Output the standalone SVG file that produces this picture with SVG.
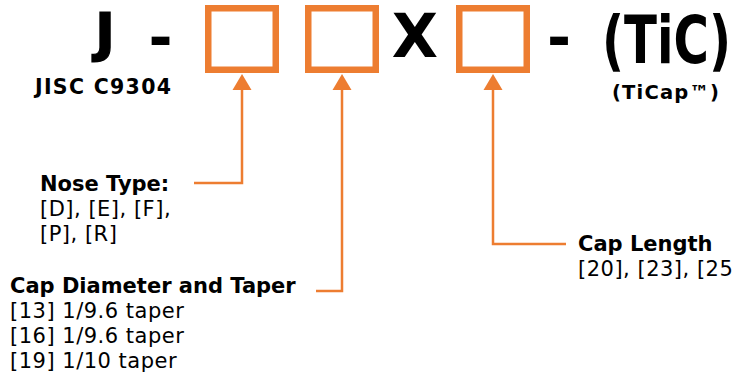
<svg xmlns="http://www.w3.org/2000/svg" width="734" height="378" viewBox="0 0 734 378">
  <style>
    .big { font-family: "DejaVu Sans", Verdana, sans-serif; font-weight: bold; fill: #000; }
    .hd { font-family: "DejaVu Sans", Verdana, sans-serif; font-weight: bold; font-size: 21px; fill: #000; }
    .tx { font-family: "DejaVu Sans", Verdana, sans-serif; font-size: 21px; letter-spacing: 0.5px; fill: #000; }
    .box { fill: none; stroke: #ED7D31; stroke-width: 6.5; }
    .conn { fill: none; stroke: #ED7D31; stroke-width: 2.5; }
    .head { fill: #ED7D31; }
  </style>

  <g id="code">
    <text class="big" x="95" y="51" font-size="54" stroke="#000" stroke-width="1.2">J</text>
    <text class="big" x="160.5" y="58" font-size="58" text-anchor="middle">-</text>
    <text class="big" x="415" y="57" font-size="60" text-anchor="middle">X</text>
    <text class="big" x="559" y="58" font-size="58" text-anchor="middle">-</text>
    <text class="big" x="0" y="0" font-size="65" transform="translate(602,62.5) scale(0.743,1)">(TiC)</text>
  </g>

  <g id="jisc">
    <text class="big" x="35" y="94" font-size="20.5" textLength="136">JISC C9304</text>
  </g>
  <g id="ticap">
    <text class="big" x="612" y="99" font-size="19.5" textLength="107">(TiCap™)</text>
  </g>

  <g id="box-nose">
    <rect class="box" x="208.25" y="8.25" width="67.5" height="61.5"/>
  </g>
  <g id="box-diameter">
    <rect class="box" x="308.25" y="8.25" width="67.5" height="61.5"/>
  </g>
  <g id="box-length">
    <rect class="box" x="459.25" y="8.25" width="67.5" height="61.5"/>
  </g>

  <g id="connectors">
    <path class="conn" d="M242,89 V183 H194"/>
    <polygon class="head" points="242,74 232.5,90 251.5,90"/>
    <path class="conn" d="M342,89 V291 H316"/>
    <polygon class="head" points="342,74 332.5,90 351.5,90"/>
    <path class="conn" d="M493,89 V244 H566"/>
    <polygon class="head" points="493,74 483.5,90 502.5,90"/>
  </g>

  <g id="nose-type">
    <text class="hd" x="40" y="191">Nose Type:</text>
    <text class="tx" x="40" y="216">[D], [E], [F],</text>
    <text class="tx" x="40" y="241">[P], [R]</text>
  </g>

  <g id="cap-diameter">
    <text class="hd" x="10" y="293">Cap Diameter and Taper</text>
    <text class="tx" x="10" y="318">[13] 1/9.6 taper</text>
    <text class="tx" x="10" y="343">[16] 1/9.6 taper</text>
    <text class="tx" x="10" y="368">[19] 1/10 taper</text>
  </g>

  <g id="cap-length">
    <text class="hd" x="578" y="251">Cap Length</text>
    <text class="tx" x="578" y="276">[20], [23], [25</text>
  </g>
</svg>
